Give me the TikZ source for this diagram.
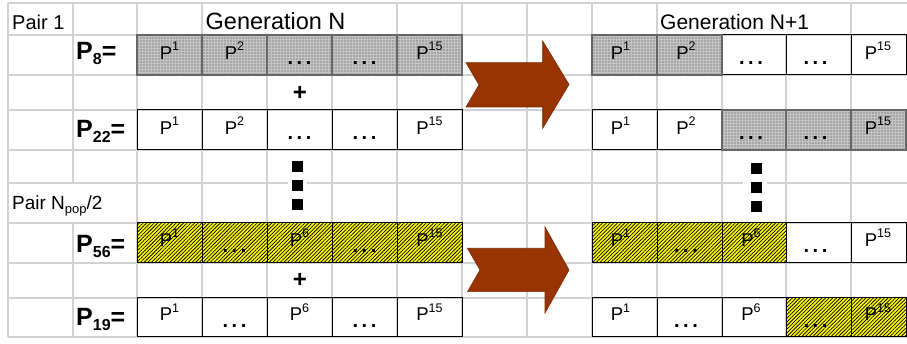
\documentclass[tikz,border=0pt]{standalone}
\usepackage{fontspec}
\setmainfont{Liberation Sans}
\usetikzlibrary{patterns.meta}
\definecolor{gridc}{RGB}{210,210,210}
\definecolor{arrowc}{RGB}{153,51,0}
\definecolor{cellgray}{RGB}{196,196,196}
\definecolor{hatchy}{RGB}{255,255,0}
\newcommand\geneP[1]{P\raisebox{9pt}{\fontsize{12.5}{12.5}\selectfont #1}}
\newcommand\dts{.\hspace{3.5pt}.\hspace{3.5pt}.}
\newcommand\lblsub[1]{\raisebox{-5pt}{\fontsize{16}{16}\selectfont #1}}
\tikzset{
  gridline/.style={draw=gridc, line width=1.1pt},
  graycell/.style={preaction={fill=cellgray}, pattern={Dots[distance=3pt,radius=0.55pt]}, pattern color=black!75},
  yellowcell/.style={preaction={fill=hatchy}, pattern={Lines[angle=45,distance=2.6pt,line width=0.75pt]}, pattern color=black},
  cellborder/.style={draw=black, line width=1pt},
  grayborder/.style={draw=black!60, line width=1.3pt},
  ptxt/.style={anchor=base, inner sep=0pt, font=\fontsize{18.5}{18.5}\selectfont},
  dtxt/.style={anchor=base, inner sep=0pt, font=\fontsize{20}{20}\selectfont\bfseries},
  lbl/.style={anchor=base west, inner sep=0pt, font=\fontsize{25}{25}\selectfont\bfseries},
  plus/.style={inner sep=0pt, font=\fontsize{24}{24}\selectfont\bfseries},
  sq/.style={fill=black, inner sep=0pt, minimum width=11pt, minimum height=11pt},
  bigarrow/.style={fill=arrowc, draw=arrowc!80!black, line width=0.6pt},
}
\begin{document}
\begin{tikzpicture}[x=1pt,y=-1pt]
\useasboundingbox (0,0) rectangle (907,344);
\fill[white] (0,0) rectangle (907,344);
% grid
\foreach \x in {8,137,202,397,462,527,592,657,851}
  \draw[gridline] (\x,3) -- (\x,337);
\foreach \x in {267,332,722,786}
  \draw[gridline] (\x,35) -- (\x,337);
\draw[gridline] (73,3) -- (73,183);
\draw[gridline] (73,223) -- (73,337);
\foreach \y in {3,35,75,110,150,183,223,263,298,337}
  \draw[gridline] (8,\y) -- (907,\y);
% gaps behind squares
\fill[white] (288,177) rectangle (307,189);
\fill[white] (743,177) rectangle (767,189);
% fills
\path[graycell] (137,35) rectangle (462,75);
\path[graycell] (592,35) rectangle (722,75);
\path[graycell] (722,110) rectangle (906,150);
\path[yellowcell] (137,223) rectangle (462,263);
\path[yellowcell] (592,223) rectangle (786,263);
\path[yellowcell] (786,298) rectangle (906,337);
% borders
\foreach \t/\b in {35/75,110/150,223/263,298/337}{
  \draw[cellborder] (137,\t) rectangle (462,\b);
  \foreach \x in {202,267,332,397} \draw[cellborder] (\x,\t) -- (\x,\b);
  \draw[cellborder] (592,\t) rectangle (906,\b);
  \foreach \x in {657,722,786,851} \draw[cellborder] (\x,\t) -- (\x,\b);
}
\draw[grayborder] (137,35) rectangle (462,75);
\foreach \x in {202,267,332,397} \draw[grayborder] (\x,35) -- (\x,75);
\draw[grayborder] (592,35) rectangle (722,75);
\draw[grayborder] (657,35) -- (657,75);
\draw[grayborder] (722,110) rectangle (906,150);
\foreach \x in {786,851} \draw[grayborder] (\x,110) -- (\x,150);
% arrows
\path[bigarrow] (466,62.7) -- (542.7,62.7) -- (542.7,41) -- (569,84.5) -- (542.7,128.3) -- (542.7,107) -- (466,107) -- (479,84.8) -- cycle;
\path[bigarrow] (467.5,248.3) -- (545,248.3) -- (545,227) -- (569,270) -- (545,313) -- (545,291.7) -- (467.5,291.7) -- (480,270) -- cycle;
% headings
\node[anchor=base west, inner sep=0pt, font=\fontsize{20}{20}\selectfont] (pair1) at (12,29.5) {Pair 1};
\node[anchor=base west, inner sep=0pt, font=\fontsize{23.5}{23.5}\selectfont] (genN) at (205.5,29.5) {Generation N};
\node[anchor=base west, inner sep=0pt, font=\fontsize{21}{21}\selectfont] (genN1) at (660,30) {Generation N+1};
\node[anchor=base west, inner sep=0pt, font=\fontsize{19}{19}\selectfont] (pairN) at (12,210) {Pair N\raisebox{-4pt}{\fontsize{13}{13}\selectfont pop}/2};
% labels
\node[lbl] (lP8) at (76,60) {P\lblsub{8}=};
\node[lbl] (lP22) at (76,138) {P\lblsub{22}=};
\node[lbl] (lP56) at (76,252.7) {P\lblsub{56}=};
\node[lbl] (lP19) at (76,326) {P\lblsub{19}=};
% left table texts
\node[ptxt] (a1) at (169.5,59.5) {\geneP{1}};
\node[ptxt] (a2) at (234.5,59.5) {\geneP{2}};
\node[dtxt] (a3) at (299.5,64.5) {\dts};
\node[dtxt] (a4) at (364.5,64.5) {\dts};
\node[ptxt] (a5) at (429.5,59.5) {\geneP{15}};
\node[ptxt] (b1) at (169.5,134.5) {\geneP{1}};
\node[ptxt] (b2) at (234.5,134.5) {\geneP{2}};
\node[dtxt] (b3) at (299.5,139.5) {\dts};
\node[dtxt] (b4) at (364.5,139.5) {\dts};
\node[ptxt] (b5) at (429.5,134.5) {\geneP{15}};
\node[ptxt] (c1) at (169.5,246.5) {\geneP{1}};
\node[dtxt] (c2) at (234.5,252.5) {\dts};
\node[ptxt] (c3) at (299.5,246.5) {\geneP{6}};
\node[dtxt] (c4) at (364.5,252.5) {\dts};
\node[ptxt] (c5) at (429.5,246.5) {\geneP{15}};
\node[ptxt] (d1) at (169.5,321) {\geneP{1}};
\node[dtxt] (d2) at (234.5,327.5) {\dts};
\node[ptxt] (d3) at (299.5,321) {\geneP{6}};
\node[dtxt] (d4) at (364.5,327.5) {\dts};
\node[ptxt] (d5) at (429.5,321) {\geneP{15}};
% right table texts
\node[ptxt] (e1) at (620.5,59.5) {\geneP{1}};
\node[ptxt] (e2) at (686,59.5) {\geneP{2}};
\node[dtxt] (e3) at (751,64.5) {\dts};
\node[dtxt] (e4) at (815.5,64.5) {\dts};
\node[ptxt] (e5) at (878,59.5) {\geneP{15}};
\node[ptxt] (f1) at (620.5,134.5) {\geneP{1}};
\node[ptxt] (f2) at (686,134.5) {\geneP{2}};
\node[dtxt] (f3) at (751,139.5) {\dts};
\node[dtxt] (f4) at (815.5,139.5) {\dts};
\node[ptxt] (f5) at (878,134.5) {\geneP{15}};
\node[ptxt] (g1) at (620.5,246.5) {\geneP{1}};
\node[dtxt] (g2) at (686,252.5) {\dts};
\node[ptxt] (g3) at (751,246.5) {\geneP{6}};
\node[dtxt] (g4) at (815.5,252.5) {\dts};
\node[ptxt] (g5) at (878,246.5) {\geneP{15}};
\node[ptxt] (h1) at (620.5,321) {\geneP{1}};
\node[dtxt] (h2) at (686,327.5) {\dts};
\node[ptxt] (h3) at (751,321) {\geneP{6}};
\node[dtxt] (h4) at (815.5,327.5) {\dts};
\node[ptxt] (h5) at (878,321) {\geneP{15}};
% plus signs
\node[plus] (plus1) at (300,93) {+};
\node[plus] (plus2) at (300,280) {+};
% vertical ellipsis squares
\node[sq] (sqL1) at (297.5,166.5) {};
\node[sq] (sqL2) at (297.5,185.5) {};
\node[sq] (sqL3) at (297.5,204.5) {};
\node[sq] (sqR1) at (756.5,168.5) {};
\node[sq] (sqR2) at (756.5,187.5) {};
\node[sq] (sqR3) at (756.5,206.5) {};
\end{tikzpicture}
\end{document}
